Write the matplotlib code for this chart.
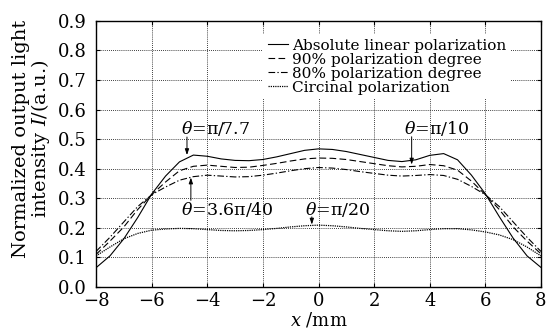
import matplotlib
matplotlib.use("Agg")
import matplotlib.pyplot as plt

plt.rcParams['font.family'] = ['DejaVu Serif']
plt.rcParams['mathtext.fontset'] = 'dejavuserif'

# position along x (mm)
x_mm = [-8, -7.5, -7, -6.5, -6, -5.5, -5, -4.5, -4, -3.5, -3, -2.5, -2, -1.5, -1, -0.5,
        0, 0.5, 1, 1.5, 2, 2.5, 3, 3.5, 4, 4.5, 5, 5.5, 6, 6.5, 7, 7.5, 8]

# normalized output light intensity, one list per polarization state
linear_abs = [0.065, 0.105, 0.163, 0.235, 0.314, 0.375, 0.423, 0.446, 0.442, 0.433, 0.428,
              0.427, 0.431, 0.440, 0.451, 0.462, 0.467, 0.465, 0.458, 0.448, 0.438, 0.428,
              0.424, 0.430, 0.445, 0.451, 0.430, 0.378, 0.315, 0.238, 0.165, 0.105, 0.066]
deg_90 = [0.110, 0.155, 0.203, 0.262, 0.312, 0.355, 0.393, 0.408, 0.412, 0.408, 0.404,
          0.405, 0.411, 0.418, 0.426, 0.433, 0.436, 0.435, 0.431, 0.424, 0.417, 0.410,
          0.406, 0.408, 0.414, 0.410, 0.395, 0.358, 0.312, 0.262, 0.203, 0.155, 0.112]
deg_80 = [0.120, 0.168, 0.220, 0.272, 0.312, 0.338, 0.361, 0.373, 0.378, 0.375, 0.372,
          0.373, 0.378, 0.385, 0.393, 0.400, 0.404, 0.402, 0.397, 0.390, 0.384, 0.378,
          0.375, 0.377, 0.380, 0.377, 0.364, 0.340, 0.312, 0.272, 0.220, 0.168, 0.120]
circular = [0.105, 0.135, 0.163, 0.181, 0.192, 0.196, 0.198, 0.197, 0.194, 0.191, 0.190,
            0.191, 0.194, 0.198, 0.203, 0.207, 0.209, 0.207, 0.203, 0.198, 0.194, 0.190,
            0.188, 0.190, 0.194, 0.197, 0.197, 0.193, 0.186, 0.176, 0.160, 0.135, 0.105]

labels = ['Absolute linear polarization', '90% polarization degree',
          '80% polarization degree', 'Circinal polarization']

x_ticks = [-8, -6, -4, -2, 0, 2, 4, 6, 8]
y_ticks = [0.0, 0.1, 0.2, 0.3, 0.4, 0.5, 0.6, 0.7, 0.8, 0.9]

fig = plt.figure(figsize=(5.52, 3.36), dpi=100)
ax = fig.add_axes([0.174, 0.146, 0.806, 0.792])

ax.plot(x_mm, linear_abs, color='k', lw=0.8, ls='-', label=labels[0])
ax.plot(x_mm, deg_90, color='k', lw=0.8, ls=(0, (6, 3)), label=labels[1])
ax.plot(x_mm, deg_80, color='k', lw=0.8, ls=(0, (6, 2, 1.2, 2)), label=labels[2])
ax.plot(x_mm, circular, color='k', lw=0.9, ls=(0, (1, 0.8)), label=labels[3])

ax.set_xlim(-8, 8)
ax.set_ylim(0, 0.9)
ax.set_xticks(x_ticks)
ax.set_yticks(y_ticks)
ax.yaxis.set_major_formatter(matplotlib.ticker.FormatStrFormatter('%.1f'))
ax.grid(True, color='k', lw=0.6, ls=(0, (1, 1.5)))
ax.tick_params(direction='in', length=3, width=0.8, labelsize=13,
               top=True, right=True)
ax.tick_params(axis='y', pad=6.5)
ax.tick_params(axis='x', pad=4)
for s in ax.spines.values():
    s.set_linewidth(1.0)

ax.set_xlabel('$x$ /mm', fontsize=13, labelpad=0)
ax.set_ylabel('Normalized output light\nintensity $I$/(a.u.)', fontsize=14,
              linespacing=0.95, multialignment='center')
ax.yaxis.set_label_coords(-0.099, 0.555)

leg = ax.legend(loc='upper left', bbox_to_anchor=(0.376, 0.95), fontsize=11,
                frameon=True, fancybox=False, edgecolor='none', facecolor='white',
                framealpha=1, handlelength=1.3, handletextpad=0.27,
                labelspacing=0.0, borderpad=0.3, borderaxespad=0)

akw = dict(arrowstyle='-|>,head_length=0.35,head_width=0.12', color='k', lw=0.7,
           shrinkA=0, shrinkB=0)
ax.annotate('', xy=(-4.73, 0.446), xytext=(-4.73, 0.507), arrowprops=akw)
ax.text(-3.71, 0.535, r'$\theta$=π/7.7', fontsize=12.5, ha='center', va='center')
ax.annotate('', xy=(-4.59, 0.370), xytext=(-4.59, 0.293), arrowprops=akw)
ax.text(-3.29, 0.263, r'$\theta$=3.6π/40', fontsize=12.5, ha='center', va='center')
ax.annotate('', xy=(3.35, 0.414), xytext=(3.35, 0.508), arrowprops=akw)
ax.text(4.23, 0.535, r'$\theta$=π/10', fontsize=12.5, ha='center', va='center')
ax.annotate('', xy=(-0.24, 0.211), xytext=(-0.24, 0.237), arrowprops=akw)
ax.text(0.67, 0.263, r'$\theta$=π/20', fontsize=12.5, ha='center', va='center')

fig.savefig('out.png', dpi=100)
